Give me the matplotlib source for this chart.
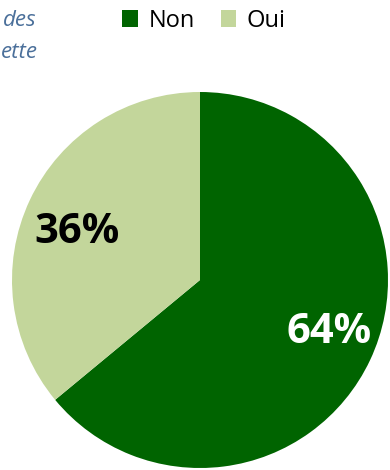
import numpy as np
import matplotlib.pyplot as plt
from matplotlib.patches import Patch

labels = ["Non", "Oui"]
values = [64, 36]
colors = ["#006400", "#C3D69B"]
pct_colors = ["white", "black"]

fig = plt.figure(figsize=(3.9, 4.7), dpi=100)
ax = fig.add_axes([12 / 390, 2 / 470, 376 / 390, 376 / 470])

wedges, texts, autotexts = ax.pie(values, colors=colors, startangle=90, counterclock=False,
                                  autopct="%d%%", pctdistance=0.74, radius=1.0,
                                  textprops=dict(fontsize=30, fontweight="bold", family="Open Sans"))
# nudge the percent labels a little toward where Excel put them
dist = [0.74, 0.70]
dang = [3.0, 4.0]
for w, t, c, d, a in zip(wedges, autotexts, pct_colors, dist, dang):
    mid = np.deg2rad((w.theta1 + w.theta2) / 2 + a)
    t.set_position((d * np.cos(mid), d * np.sin(mid)))
    t.set_color(c)
ax.set_xlim(-1, 1)
ax.set_ylim(-1, 1)
ax.set_aspect("equal")
ax.axis("off")

# legend
handles = [Patch(facecolor=c, label=l) for c, l in zip(colors, labels)]
fig.legend(handles=handles, loc="center", bbox_to_anchor=(204 / 390, 1 - 21 / 470), ncol=2, frameon=False,
           prop=dict(family="Open Sans", size=17), handlelength=0.65, handleheight=0.75,
           handletextpad=0.45, columnspacing=1.1)

# fragment of a title cut off at the left edge
fig.text(37 / 390, 1 - 21 / 470, "des", ha="right", va="center", style="italic",
         color="#4A6F9A", fontsize=16, family="Open Sans")
fig.text(38 / 390, 1 - 53 / 470, "ette", ha="right", va="center", style="italic",
         color="#4A6F9A", fontsize=16, family="Open Sans")

fig.savefig("out.png", dpi=100)
